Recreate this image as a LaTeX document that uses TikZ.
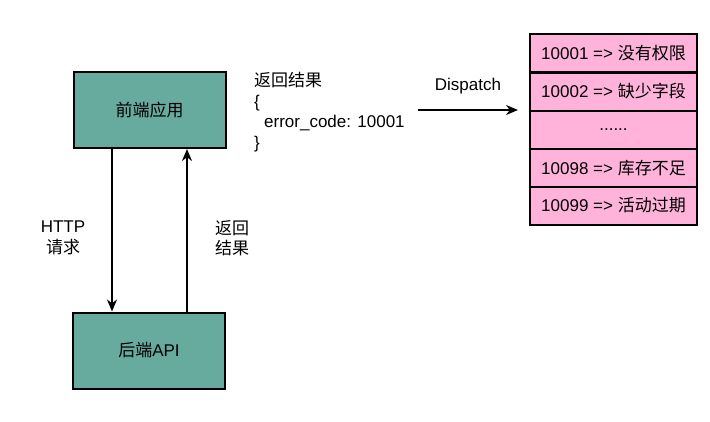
\documentclass[tikz,border=0pt]{standalone}
\usepackage{fontspec}
\setmainfont{Liberation Sans}
\newfontfamily\cjk{Noto Sans CJK SC}
\usetikzlibrary{arrows.meta,positioning}

\definecolor{tealfill}{HTML}{67AB9F}
\definecolor{pinkfill}{HTML}{FFB3DB}
\newcommand{\zh}[1]{{\cjk #1}}

\tikzset{
  appbox/.style={draw=black, line width=2pt, fill=tealfill, minimum width=152pt, minimum height=76pt, inner sep=0pt},
  coderow/.style={draw=black, line width=2pt, fill=pinkfill, minimum width=167pt, minimum height=38pt, inner sep=0pt},
  flow/.style={-{Stealth[length=12pt,width=10pt]}, line width=2pt},
  lbl/.style={inner sep=0pt, align=center}
}

\begin{document}
\begin{tikzpicture}[x=1pt, y=-1pt, font=\fontsize{17}{20.5}\selectfont]
    \useasboundingbox (0,0) rectangle (710,421);

    % client and server
    \node[appbox] (front) at (149.5,110) {\zh{前端应用}};
    \node[appbox] (back) at (149,350.5) {\zh{后端}API};

    % request / response
    \draw[flow] ([xshift=-37.5pt]front.south) -- ([xshift=-37pt]back.north);
    \draw[flow] ([xshift=38pt]back.north) -- ([xshift=37.5pt]front.south);
    \node[lbl] (req) at (63,238) {HTTP\\\zh{请求}};
    \node[lbl] (resp) at (232,238) {\zh{返回}\\\zh{结果}};

    % returned payload
    \node[inner sep=0pt, align=left, anchor=west] (result) at (254,112)
        {\zh{返回结果}\\\{\\\hspace{10pt}error\_code: 10001\\\}};

    % dispatch to error table
    \coordinate (dstart) at (418,110);
    \coordinate (dend) at (518,110);
    \draw[flow] (dstart) -- (dend);
    \node[lbl] (dispatch) at (468,86) {Dispatch};

    % error code table
    \node[coderow] (r1) at (613.5,53) {10001 => \zh{没有权限}};
    \node[coderow] (r2) at (613.5,91.5) {10002 => \zh{缺少字段}};
    \node[coderow] (r3) at (613.5,130) {......};
    \node[coderow] (r4) at (613.5,168) {10098 => \zh{库存不足}};
    \node[coderow] (r5) at (613.5,205.5) {10099 => \zh{活动过期}};
\end{tikzpicture}
\end{document}
